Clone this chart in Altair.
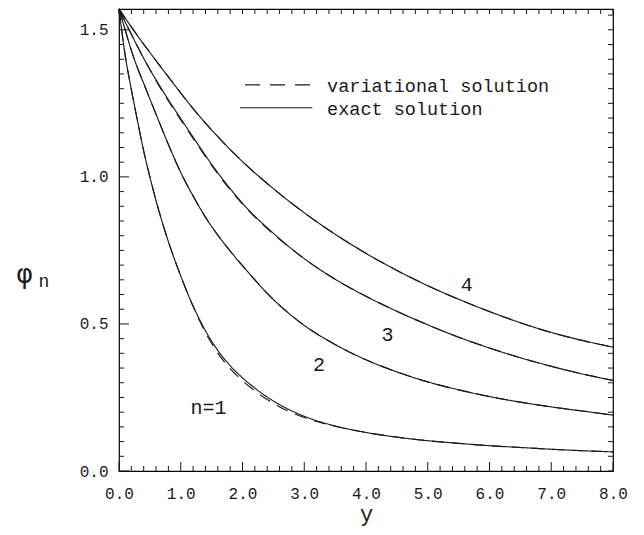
import altair as alt
import pandas as pd

# ---- data ----
x_grid = [0.0, 0.1, 0.2, 0.3, 0.4, 0.5, 0.6, 0.8, 1.0, 1.2, 1.4, 1.6, 1.8, 2.0,
          2.5, 3.0, 3.5, 4.0, 4.5, 5.0, 5.5, 6.0, 6.5, 7.0, 7.5, 8.0]

exact_n1 = [1.571, 1.413, 1.297, 1.190, 1.088, 1.000, 0.919, 0.780, 0.663, 0.561,
            0.477, 0.410, 0.358, 0.317, 0.238, 0.186, 0.153, 0.131, 0.115, 0.103,
            0.094, 0.086, 0.080, 0.074, 0.069, 0.065]
exact_n2 = [1.571, 1.500, 1.430, 1.370, 1.318, 1.265, 1.213, 1.110, 1.015, 0.935,
            0.863, 0.802, 0.748, 0.698, 0.583, 0.495, 0.430, 0.378, 0.337, 0.303,
            0.276, 0.253, 0.234, 0.218, 0.204, 0.190]
exact_n3 = [1.571, 1.527, 1.485, 1.443, 1.403, 1.365, 1.330, 1.262, 1.198, 1.135,
            1.073, 1.014, 0.960, 0.910, 0.808, 0.722, 0.652, 0.594, 0.543, 0.497,
            0.455, 0.418, 0.385, 0.356, 0.330, 0.308]
exact_n4 = [1.571, 1.540, 1.510, 1.480, 1.451, 1.423, 1.395, 1.340, 1.285, 1.232,
            1.183, 1.137, 1.093, 1.052, 0.960, 0.878, 0.805, 0.740, 0.682, 0.630,
            0.584, 0.542, 0.504, 0.471, 0.444, 0.421]

var_n1 = [1.571, 1.413, 1.297, 1.190, 1.088, 1.000, 0.919, 0.780, 0.663, 0.559,
          0.471, 0.401, 0.348, 0.307, 0.230, 0.182, 0.152, 0.131, 0.115, 0.103,
          0.094, 0.086, 0.080, 0.074, 0.069, 0.065]
var_n2 = [1.571, 1.500, 1.430, 1.370, 1.318, 1.265, 1.213, 1.110, 1.015, 0.935,
          0.863, 0.802, 0.748, 0.698, 0.583, 0.495, 0.430, 0.378, 0.337, 0.303,
          0.276, 0.253, 0.234, 0.218, 0.204, 0.190]
var_n3 = [1.571, 1.527, 1.485, 1.443, 1.403, 1.365, 1.327, 1.258, 1.194, 1.131,
          1.069, 1.010, 0.956, 0.907, 0.806, 0.722, 0.652, 0.594, 0.543, 0.497,
          0.455, 0.418, 0.385, 0.356, 0.330, 0.308]
var_n4 = [1.571, 1.540, 1.510, 1.480, 1.451, 1.423, 1.395, 1.340, 1.285, 1.232,
          1.183, 1.137, 1.093, 1.052, 0.960, 0.878, 0.805, 0.740, 0.682, 0.630,
          0.584, 0.542, 0.504, 0.471, 0.444, 0.421]

x_tick_labels = [0, 1, 2, 3, 4, 5, 6, 7, 8]
y_tick_labels = [0.0, 0.5, 1.0, 1.5]
x_minor_ticks = [round(0.2 * i, 1) for i in range(41)]
y_minor_ticks = [round(0.05 * i, 2) for i in range(32)]

curve_labels = ["n=1", "2", "3", "4"]
curve_label_x = [1.45, 3.24, 4.35, 5.63]
curve_label_y = [0.213, 0.361, 0.463, 0.633]

legend_labels = ["variational solution", "exact solution"]
legend_kinds = ["variational", "exact"]

# ---- layout constants ----
W, H = 494, 462
FONT = "Liberation Mono"
INK = "#1a1a1a"

rows = []
for name, ex, va in [("1", exact_n1, var_n1), ("2", exact_n2, var_n2),
                     ("3", exact_n3, var_n3), ("4", exact_n4, var_n4)]:
    for xv, e, v in zip(x_grid, ex, va):
        rows.append({"x": xv, "phi": e, "curve": name, "kind": "exact"})
        rows.append({"x": xv, "phi": v, "curve": name, "kind": "variational"})
df = pd.DataFrame(rows)

xs = alt.Scale(domain=[0, 8], nice=False)
ys = alt.Scale(domain=[0, 1.5708], nice=False)

dash = alt.Scale(domain=["exact", "variational"], range=[[1, 0], [12, 8]])

x_axis = alt.Axis(values=x_tick_labels, format=".1f", ticks=False, domain=False,
                  grid=False, labelFont=FONT, labelFontSize=16, labelColor=INK,
                  labelPadding=14, labelFlush=False, labelOverlap=False,
                  title="y", titleFont=FONT, titleFontSize=22,
                  titleFontWeight="normal", titleColor=INK, titleBaseline="alphabetic",
                  titleY=49)
y_axis = alt.Axis(values=y_tick_labels, format=".1f", ticks=False, domain=False,
                  grid=False, labelFont=FONT, labelFontSize=16, labelColor=INK,
                  labelPadding=11, labelFlush=False, labelOverlap=False,
                  title="φ", titleFont="DejaVu Sans",
                  titleFontSize=26, titleFontWeight="normal", titleColor=INK,
                  titleAngle=0, titleAlign="center", titleBaseline="alphabetic",
                  titleX=-95, titleY=273)

lines = alt.Chart(df).mark_line(color=INK, strokeWidth=1.15, interpolate="monotone").encode(
    x=alt.X("x:Q", scale=xs, axis=x_axis),
    y=alt.Y("phi:Q", scale=ys, axis=y_axis),
    detail="curve:N",
    strokeDash=alt.StrokeDash("kind:N", scale=dash, legend=None),
    order=alt.Order("kind:N"),
)

# subscript n of the y axis title
sub_n = alt.Chart(pd.DataFrame({"t": ["n"]})).mark_text(
    font=FONT, fontSize=18, color=INK, align="center", baseline="alphabetic"
).encode(x=alt.value(-75), y=alt.value(278), text="t:N")

def tick_layer(vals, channel, major_every, lmin, lmaj, side):
    d = pd.DataFrame({"x": vals, "i": list(range(len(vals)))})
    d["major"] = d["i"] % major_every == 0
    layers = []
    for is_major, ln in [(False, lmin), (True, lmaj)]:
        sub = d[d["major"] == is_major].rename(columns={"x": "x" if channel == "x" else "phi"})
        base = alt.Chart(sub).mark_rule(color=INK, strokeWidth=1)
        if channel == "y":
            enc = dict(y=alt.Y("phi:Q", scale=ys, axis=y_axis))
            if side == "left":
                enc.update(x=alt.value(0), x2=alt.value(ln))
            else:
                enc.update(x=alt.value(W), x2=alt.value(W - ln))
        else:
            enc = dict(x=alt.X("x:Q", scale=xs, axis=x_axis))
            if side == "bottom":
                enc.update(y=alt.value(H), y2=alt.value(H - ln))
            else:
                enc.update(y=alt.value(0), y2=alt.value(ln))
        layers.append(base.encode(**enc))
    return layers

ticks = []
ticks += tick_layer(y_minor_ticks, "y", 10, 5, 10, "left")
ticks += tick_layer(y_minor_ticks, "y", 10, 5, 5, "right")
ticks += tick_layer(x_minor_ticks, "x", 5, 5, 9, "bottom")
ticks += tick_layer(x_minor_ticks, "x", 5, 5, 5, "top")

labels_df = pd.DataFrame({"t": curve_labels, "x": curve_label_x, "phi": curve_label_y})
curve_text = alt.Chart(labels_df).mark_text(
    font=FONT, fontSize=20, color=INK, align="center", baseline="middle"
).encode(x=alt.X("x:Q", scale=xs, axis=x_axis), y=alt.Y("phi:Q", scale=ys, axis=y_axis),
         text="t:N")

# manual legend inside the plot
leg_lines = pd.DataFrame({"kind": legend_kinds, "x": [2.04, 1.96], "x2": [3.13, 3.13],
                          "phi": [1.313, 1.235]})
leg_rule = alt.Chart(leg_lines).mark_rule(color=INK, strokeWidth=1.15).encode(
    x=alt.X("x:Q", scale=xs, axis=x_axis), x2="x2:Q",
    y=alt.Y("phi:Q", scale=ys, axis=y_axis),
    strokeDash=alt.StrokeDash("kind:N", scale=alt.Scale(domain=["exact", "variational"],
                                                        range=[[1, 0], [15, 10]]), legend=None),
)
leg_txt = pd.DataFrame({"t": legend_labels, "x": [3.37, 3.37], "phi": [1.289, 1.211]})
leg_text = alt.Chart(leg_txt).mark_text(
    font=FONT, fontSize=18.5, color=INK, align="left", baseline="alphabetic"
).encode(x=alt.X("x:Q", scale=xs, axis=x_axis), y=alt.Y("phi:Q", scale=ys, axis=y_axis),
         text="t:N")

chart = alt.layer(lines, *ticks, curve_text, leg_rule, leg_text, sub_n).resolve_scale(
    strokeDash="independent"
).properties(
    width=W, height=H,
    padding={"left": 111, "top": 1, "right": 20, "bottom": 56},
    autosize=alt.AutoSizeParams(type="none"),
    background="white",
).configure_view(stroke="black", strokeWidth=1.2)

chart.save("out.html", embed_options={"renderer": "svg", "actions": False})
